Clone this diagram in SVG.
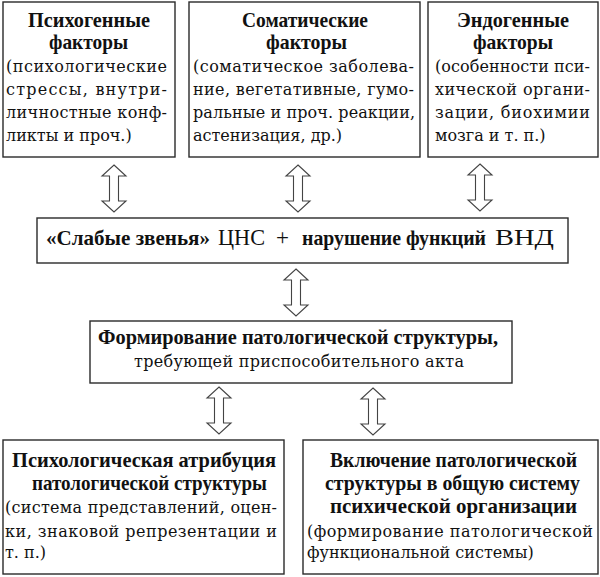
<svg xmlns="http://www.w3.org/2000/svg" xmlns:xlink="http://www.w3.org/1999/xlink" width="600" height="577" viewBox="0 0 600 577">
<style>
.box{fill:#fff;stroke:#2a2a2a;stroke-width:1.4}
.h{font-family:"Liberation Serif","Times New Roman",serif;font-weight:bold;font-size:21px;fill:#111}
.b{font-family:"DejaVu Serif","Liberation Serif",serif;font-size:16px;fill:#111}
.big{font-family:"Liberation Serif","Times New Roman",serif;font-size:23px;fill:#111}
.arr{fill:#fff;stroke:#444;stroke-width:1.1;stroke-linejoin:miter}
</style>
<defs>
<path id="dblarrow" class="arr" d="M0,0 L12,11 L4.5,11 L4.5,36 L12,36 L0,47 L-12,36 L-4.5,36 L-4.5,11 L-12,11 Z"/>
</defs>
<rect width="600" height="577" fill="#fff"/>

<g id="connectors">
<use xlink:href="#dblarrow" x="114" y="165"/>
<use xlink:href="#dblarrow" x="298" y="165"/>
<use xlink:href="#dblarrow" x="480" y="164"/>
<use xlink:href="#dblarrow" x="296" y="269"/>
<use xlink:href="#dblarrow" x="219" y="387"/>
<use xlink:href="#dblarrow" x="373" y="388"/>
</g>

<g id="node-psychogenic">
<rect class="box" x="3" y="2" width="172" height="155"/>
<text class="h" x="28" y="27" textLength="122" lengthAdjust="spacingAndGlyphs">Психогенные</text>
<text class="h" x="49" y="49" textLength="79" lengthAdjust="spacingAndGlyphs">факторы</text>
<text class="b" x="6" y="72" textLength="161" lengthAdjust="spacing">(психологические</text>
<text class="b" x="6" y="95" textLength="161" lengthAdjust="spacing">стрессы, внутри-</text>
<text class="b" x="6" y="118" textLength="161" lengthAdjust="spacing">личностные конф-</text>
<text class="b" x="6" y="141">ликты и проч.)</text>
</g>

<g id="node-somatic">
<rect class="box" x="189" y="2" width="231" height="155"/>
<text class="h" x="242" y="27" textLength="126" lengthAdjust="spacingAndGlyphs">Соматические</text>
<text class="h" x="266" y="49" textLength="81" lengthAdjust="spacingAndGlyphs">факторы</text>
<text class="b" x="193" y="72" textLength="221" lengthAdjust="spacing">(соматическое заболева-</text>
<text class="b" x="193" y="95" textLength="221" lengthAdjust="spacing">ние, вегетативные, гумо-</text>
<text class="b" x="193" y="118" textLength="222" lengthAdjust="spacing">ральные и проч. реакции,</text>
<text class="b" x="193" y="141">астенизация, др.)</text>
</g>

<g id="node-endogenous">
<rect class="box" x="428" y="2" width="170" height="155"/>
<text class="h" x="457" y="27" textLength="112" lengthAdjust="spacingAndGlyphs">Эндогенные</text>
<text class="h" x="473" y="49" textLength="80" lengthAdjust="spacingAndGlyphs">факторы</text>
<text class="b" x="435" y="72" textLength="155" lengthAdjust="spacing">(особенности пси-</text>
<text class="b" x="435" y="95" textLength="155" lengthAdjust="spacing">хической органи-</text>
<text class="b" x="435" y="118" textLength="155" lengthAdjust="spacing">зации, биохимии</text>
<text class="b" x="435" y="141">мозга и т. п.)</text>
</g>

<g id="node-weak-links">
<rect class="box" x="37" y="218" width="531" height="45"/>
<text class="h" x="46" y="245" textLength="164" lengthAdjust="spacingAndGlyphs">«Слабые звенья»</text>
<text class="big" x="218" y="245" textLength="47" lengthAdjust="spacingAndGlyphs">ЦНС</text>
<text class="big" x="276" y="245">+</text>
<text class="h" x="302" y="245" textLength="184" lengthAdjust="spacingAndGlyphs">нарушение функций</text>
<text class="big" x="495" y="245" textLength="59" lengthAdjust="spacingAndGlyphs">ВНД</text>
</g>

<g id="node-formation">
<rect class="box" x="90" y="321" width="422" height="62"/>
<text class="h" x="98" y="344" textLength="400" lengthAdjust="spacingAndGlyphs">Формирование патологической структуры,</text>
<text class="b" x="134" y="367" textLength="330" lengthAdjust="spacing">требующей приспособительного акта</text>
</g>

<g id="node-attribution">
<rect class="box" x="3" y="440" width="281" height="134"/>
<text class="h" x="12" y="467" textLength="264" lengthAdjust="spacingAndGlyphs">Психологическая атрибуция</text>
<text class="h" x="32" y="490" textLength="235" lengthAdjust="spacingAndGlyphs">патологической структуры</text>
<text class="b" x="5" y="513" textLength="272" lengthAdjust="spacing">(система представлений, оцен-</text>
<text class="b" x="5" y="537" textLength="272" lengthAdjust="spacing">ки, знаковой репрезентации и</text>
<text class="b" x="5" y="558">т. п.)</text>
</g>

<g id="node-inclusion">
<rect class="box" x="303" y="440" width="295" height="134"/>
<text class="h" x="330" y="467" textLength="247" lengthAdjust="spacingAndGlyphs">Включение патологической</text>
<text class="h" x="325" y="490" textLength="255" lengthAdjust="spacingAndGlyphs">структуры в общую систему</text>
<text class="h" x="330" y="513" textLength="247" lengthAdjust="spacingAndGlyphs">психической организации</text>
<text class="b" x="307" y="537" textLength="286" lengthAdjust="spacing">(формирование патологической</text>
<text class="b" x="307" y="558">функциональной системы)</text>
</g>
</svg>
